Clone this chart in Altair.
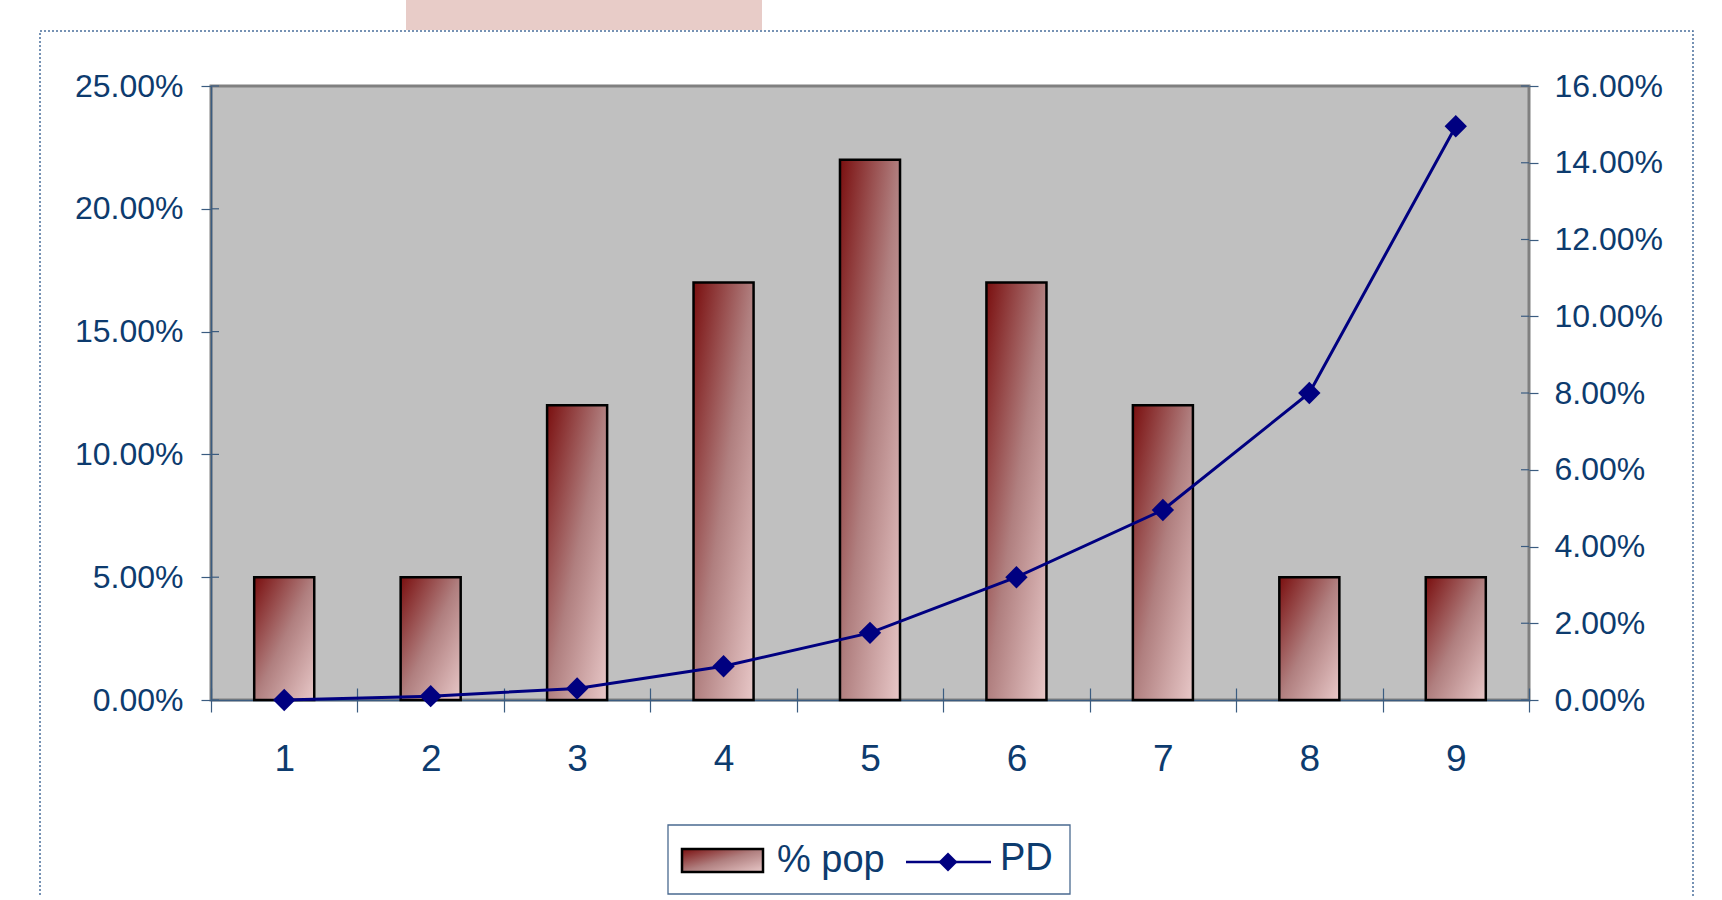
import altair as alt
import pandas as pd

# ---- data ----
categories = ["1", "2", "3", "4", "5", "6", "7", "8", "9"]
pop_share = [0.05, 0.05, 0.12, 0.17, 0.22, 0.17, 0.12, 0.05, 0.05]
pd_rate = [0.0, 0.001, 0.003, 0.0088, 0.0175, 0.032, 0.0495, 0.080, 0.1495]
left_ticks = [0.0, 0.05, 0.10, 0.15, 0.20, 0.25]
right_ticks = [0.0, 0.02, 0.04, 0.06, 0.08, 0.10, 0.12, 0.14, 0.16]
legend_labels = ["% pop", "PD"]

W, H = 1318, 614
FONT = "Liberation Sans"
TXT = "#0d3b6e"
AX = "#3b5c80"
NAVY = "#000080"

df = pd.DataFrame({"cat": categories, "pop": pop_share, "pd": pd_rate})
one = pd.DataFrame({"k": [0]})

grad = alt.LinearGradient(
    gradient="linear", x1=0, y1=0, x2=1, y2=1,
    stops=[alt.GradientStop(color="#7a0f0f", offset=0),
           alt.GradientStop(color="#b07f7f", offset=0.5),
           alt.GradientStop(color="#e8c8c8", offset=1)])

xscale = alt.Scale(domain=categories, paddingInner=0, paddingOuter=0)
x_axis = alt.Axis(title=None, labelAngle=0, tickBand="extent", labelFont=FONT,
                  labelFontSize=37, labelColor=TXT, labelPadding=29, tickSize=12,
                  tickColor=AX, tickWidth=1.2, domainColor=AX, domainWidth=1.5, grid=False)
X = alt.X("cat:O", scale=xscale, axis=x_axis)

lscale = alt.Scale(domain=[0, 0.25], nice=False)
laxis = alt.Axis(title=None, values=left_ticks, format=".2%", labelFont=FONT,
                 labelFontSize=32, labelColor=TXT, labelPadding=18, tickSize=10,
                 tickColor=AX, tickWidth=1.2, domainColor=AX, domainWidth=1.5, grid=False)
rscale = alt.Scale(domain=[0, 0.16], nice=False)
raxis = alt.Axis(title=None, orient="right", values=right_ticks, format=".2%",
                 labelFont=FONT, labelFontSize=32, labelColor=TXT, labelPadding=16,
                 tickSize=9, tickColor=AX, tickWidth=1.2, domain=False, grid=False)

bars = alt.Chart(df).mark_bar(fill=grad, stroke="black", strokeWidth=2.5,
                              width=alt.RelativeBandSize(0.41)).encode(
    x=X, y=alt.Y("pop:Q", scale=lscale, axis=laxis))
left_in = alt.Chart(pd.DataFrame({"v": left_ticks})).mark_rule(
    color=AX, strokeWidth=1.2).encode(
    y=alt.Y("v:Q", scale=lscale, axis=laxis), x=alt.value(0), x2=alt.value(8))
bar_group = alt.layer(bars, left_in)

line = alt.Chart(df).mark_line(
    color=NAVY, strokeWidth=3,
    point=alt.OverlayMarkDef(shape="diamond", size=500, filled=True, fill=NAVY, opacity=1)
).encode(x=alt.X("cat:O", scale=xscale, axis=None),
         y=alt.Y("pd:Q", scale=rscale, axis=raxis))
right_in = alt.Chart(pd.DataFrame({"v": right_ticks})).mark_rule(
    color=AX, strokeWidth=1.2).encode(
    y=alt.Y("v:Q", scale=rscale, axis=raxis), x=alt.value(W - 8), x2=alt.value(W))
line_group = alt.layer(line, right_in)

# inward x ticks (same scale, second axis flipped onto the bottom edge)
xin = alt.Chart(df).mark_point(opacity=0).encode(
    x=alt.X("cat:O", scale=xscale,
            axis=alt.Axis(title=None, orient="top", offset=-H, labels=False, domain=False,
                          tickBand="extent", tickSize=12, tickColor=AX, tickWidth=1.2,
                          grid=False)))

# decorations
pink = alt.Chart(one).mark_rect(fill="#e8ccc8").encode(
    x=alt.value(195), x2=alt.value(551), y=alt.value(-90), y2=alt.value(-56))
border = alt.Chart(one).mark_rect(fill=None, fillOpacity=0, stroke="#4a6f9c",
                                  strokeWidth=1.5, strokeDash=[2, 2]).encode(
    x=alt.value(-171), x2=alt.value(1482), y=alt.value(-55), y2=alt.value(840))

# legend
leg_box = alt.Chart(one).mark_rect(fill="white", stroke="#4a6a90", strokeWidth=1.3).encode(
    x=alt.value(457), x2=alt.value(859), y=alt.value(739), y2=alt.value(808))
leg_sw = alt.Chart(one).mark_rect(fill=grad, stroke="black", strokeWidth=2.5).encode(
    x=alt.value(471), x2=alt.value(552), y=alt.value(763), y2=alt.value(786))
leg_line = alt.Chart(one).mark_rule(color=NAVY, strokeWidth=2.5).encode(
    x=alt.value(695), x2=alt.value(780), y=alt.value(776))
leg_pt = alt.Chart(one).mark_point(shape="diamond", size=360, filled=True, fill=NAVY,
                                   opacity=1).encode(x=alt.value(737), y=alt.value(776))
leg_t1 = alt.Chart(pd.DataFrame({"t": [legend_labels[0]]})).mark_text(
    font=FONT, fontSize=38, color=TXT, align="left", baseline="alphabetic").encode(
    text="t:N", x=alt.value(566), y=alt.value(786))
leg_t2 = alt.Chart(pd.DataFrame({"t": [legend_labels[1]]})).mark_text(
    font=FONT, fontSize=38, color=TXT, align="left", baseline="alphabetic").encode(
    text="t:N", x=alt.value(789), y=alt.value(784))

chart = alt.layer(
    pink, border, bar_group, line_group, xin,
    leg_box, leg_sw, leg_line, leg_pt, leg_t1, leg_t2
).resolve_scale(y="independent").resolve_axis(x="independent").properties(
    width=W, height=H,
    autosize=alt.AutoSizeParams(type="none"),
    padding={"left": 211, "top": 86, "right": 180, "bottom": 196},
    background="white",
).configure_view(fill="#c0c0c0", stroke="#808080", strokeWidth=3)

chart.save("out.html", embed_options={"renderer": "svg", "actions": False})
